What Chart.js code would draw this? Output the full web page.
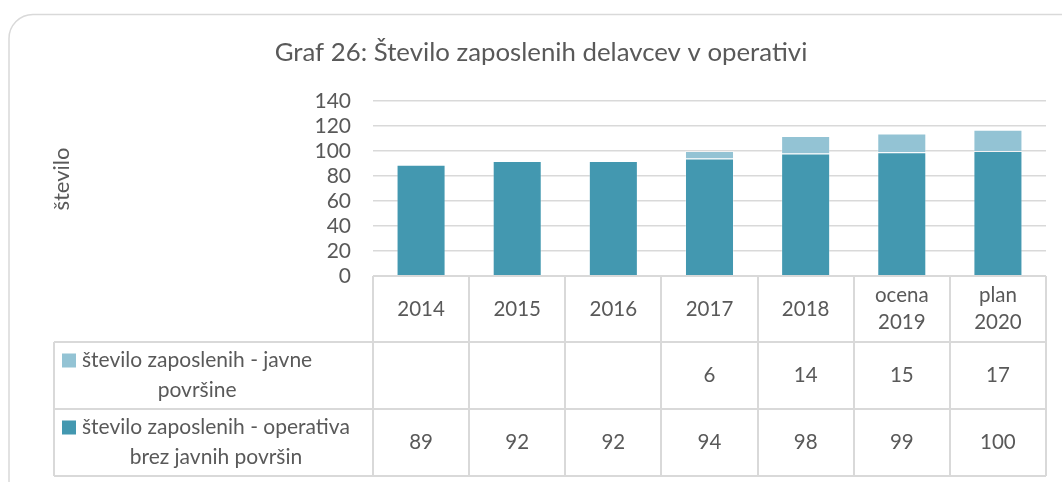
<!DOCTYPE html>
<html>
<head>
<meta charset="utf-8">
<script src="https://cdn.jsdelivr.net/npm/chart.js@4"></script>
<style>
  html, body { margin: 0; padding: 0; background: #fff; }
  #wrap { width: 1062px; height: 482px; position: relative; }
</style>
</head>
<body>
<div id="wrap"><canvas id="chart" width="1062" height="482"></canvas></div>
<script>
// categories and series
const categories = ['2014', '2015', '2016', '2017', '2018', ['ocena', '2019'], ['plan', '2020']];
const javne = [null, null, null, 6, 14, 15, 17];
const operativa = [89, 92, 92, 94, 98, 99, 100];
const javneLabel = ['število zaposlenih - javne', 'površine'];
const operativaLabel = ['število zaposlenih - operativa', 'brez javnih površin'];
const yTicks = [0, 20, 40, 60, 80, 100, 120, 140];

const FONT = 'Lato, "Open Sans", sans-serif';
const TXT = '#595959';
const LINE = '#d9d9d9';
const DARK = '#4398b0';
const LIGHT = '#93c3d4';

// frame, title, axis title and the data table under the plot
const tablePlugin = {
    id: 'dataTable',
    beforeDraw(chart) {
        const ctx = chart.ctx;
        ctx.save();
        ctx.strokeStyle = LINE;
        ctx.lineWidth = 1.5;
        ctx.beginPath();
        ctx.roundRect(9, 14.5, 1080, 490, 24);
        ctx.stroke();

        ctx.fillStyle = TXT;
        ctx.font = '25.8px ' + FONT;
        ctx.textAlign = 'center';
        ctx.textBaseline = 'middle';
        ctx.fillText('Graf 26: Število zaposlenih delavcev v operativi', 541, 53);

        ctx.translate(62, 179);
        ctx.rotate(-Math.PI / 2);
        ctx.font = '22px ' + FONT;
        ctx.fillText('število', 0, 0);
        ctx.restore();
    },
    afterDraw(chart) {
        const ctx = chart.ctx;
        const x = chart.scales.x;
        const area = chart.chartArea;
        const n = categories.length;
        const step = (area.right - area.left) / n;
        const top = area.bottom;
        const rows = [top, 342, 409, 476];
        const legendLeft = 54;

        ctx.save();
        ctx.strokeStyle = LINE;
        ctx.lineWidth = 2;
        ctx.beginPath();
        // horizontal lines
        ctx.moveTo(area.left, rows[0]); ctx.lineTo(area.right, rows[0]);
        for (let r = 1; r < rows.length; r++) {
            ctx.moveTo(legendLeft, rows[r]); ctx.lineTo(area.right, rows[r]);
        }
        // vertical lines
        for (let i = 0; i <= n; i++) {
            const px = Math.round(area.left + i * step);
            ctx.moveTo(px, rows[0]); ctx.lineTo(px, rows[3]);
        }
        ctx.moveTo(legendLeft, rows[1]); ctx.lineTo(legendLeft, rows[3]);
        ctx.stroke();

        ctx.fillStyle = TXT;
        ctx.font = '20.5px ' + FONT;
        ctx.textAlign = 'center';
        ctx.textBaseline = 'middle';
        categories.forEach((c, i) => {
            const cx = x.getPixelForValue(i);
            const lines = Array.isArray(c) ? c : [c];
            const mid = (rows[0] + rows[1]) / 2;
            lines.forEach((t, k) => {
                ctx.fillText(t, cx, mid + (k - (lines.length - 1) / 2) * 27);
            });
        });

        const series = [
            { label: javneLabel, color: LIGHT, data: javne },
            { label: operativaLabel, color: DARK, data: operativa }
        ];
        series.forEach((s, r) => {
            const mid = (rows[r + 1] + rows[r + 2]) / 2;
            const y1 = mid - 15, y2 = mid + 15;
            ctx.fillStyle = s.color;
            ctx.fillRect(62, y1 - 7, 14, 14);
            ctx.fillStyle = TXT;
            ctx.font = '21px ' + FONT;
            const w = Math.max(...s.label.map(t => ctx.measureText(t).width));
            const bx = 82 + w / 2;
            ctx.fillText(s.label[0], bx, y1);
            ctx.fillText(s.label[1], bx, y2);
            ctx.font = '20.5px ' + FONT;
            s.data.forEach((v, i) => {
                if (v === null) return;
                ctx.fillText(String(v), x.getPixelForValue(i), mid);
            });
        });
        ctx.restore();
    }
};

new Chart(document.getElementById('chart').getContext('2d'), {
    type: 'bar',
    data: {
        labels: categories,
        datasets: [
            {
                label: operativaLabel.join(' '),
                data: operativa,
                backgroundColor: DARK,
                borderColor: 'rgba(255,255,255,0.3)',
                borderWidth: 1,
                barPercentage: 0.51,
                categoryPercentage: 1
            },
            {
                label: javneLabel.join(' '),
                data: javne,
                backgroundColor: LIGHT,
                borderColor: 'rgba(255,255,255,0.3)',
                borderWidth: 1,
                barPercentage: 0.51,
                categoryPercentage: 1
            }
        ]
    },
    options: {
        responsive: false,
        animation: false,
        layout: { padding: { left: 0, right: 16, top: 101, bottom: 206 } },
        plugins: {
            legend: { display: false },
            tooltip: { enabled: false },
            title: { display: false }
        },
        scales: {
            x: { stacked: true, display: false },
            y: {
                stacked: true,
                min: 0,
                max: 140,
                afterFit(scale) { scale.width = 373; },
                afterBuildTicks(scale) { scale.ticks = yTicks.map(v => ({ value: v })); },
                ticks: { color: TXT, font: { family: FONT, size: 21 }, padding: 22, autoSkip: false },
                grid: { color: LINE, lineWidth: 1.5, drawTicks: false },
                border: { display: false }
            }
        }
    },
    plugins: [tablePlugin]
});
</script>
</body>
</html>
